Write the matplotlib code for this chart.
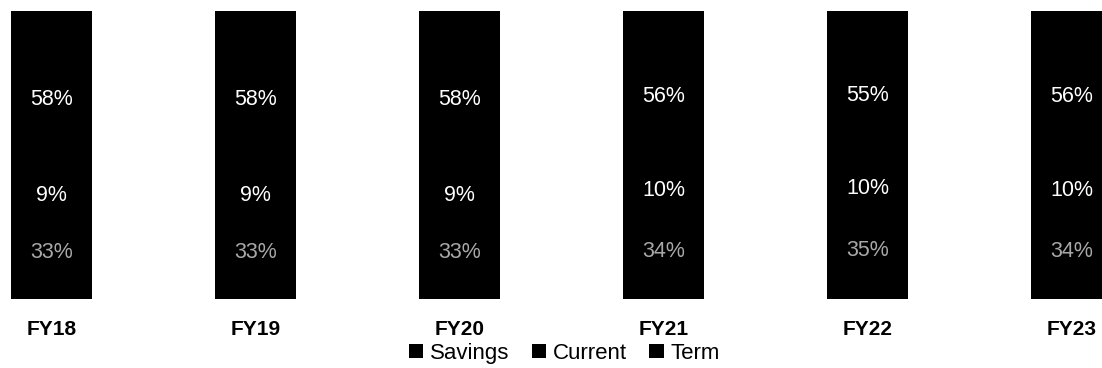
import matplotlib
matplotlib.use("Agg")
import matplotlib.pyplot as plt
from matplotlib.patches import Patch

plt.rcParams['font.family'] = ['Liberation Sans', 'DejaVu Sans']

years = ["FY18", "FY19", "FY20", "FY21", "FY22", "FY23"]
savings = [33, 33, 33, 34, 35, 34]
current = [9, 9, 9, 10, 10, 10]
term = [58, 58, 58, 56, 55, 56]

fig = plt.figure(figsize=(11.02, 3.68), dpi=100)
ax = fig.add_axes([0, 69 / 368, 1, 288 / 368])

x = list(range(len(years)))
w = 0.397
bottoms_cur = savings
bottoms_term = [s + c for s, c in zip(savings, current)]

ax.bar(x, savings, w, color="black", label="Savings")
ax.bar(x, current, w, bottom=bottoms_cur, color="black", label="Current")
ax.bar(x, term, w, bottom=bottoms_term, color="black", label="Term")

for i in x:
    ax.text(i, savings[i] / 2 - 0.5, f"{savings[i]}%", color="#a8a8a8",
            ha="center", va="center", fontsize=15.5)
    ax.text(i, savings[i] + current[i] / 2 - 1.5, f"{current[i]}%", color="white",
            ha="center", va="center", fontsize=15.5)
    ax.text(i, bottoms_term[i] + term[i] / 2 - 1.8, f"{term[i]}%", color="white",
            ha="center", va="center", fontsize=15.5)

ax.set_xlim(-0.2525, -0.2525 + 1102 / 204)
ax.set_ylim(0, 100)
ax.set_xticks(x)
ax.set_xticklabels(years, fontsize=15, fontweight="bold")
ax.tick_params(axis="x", length=0, pad=15)
ax.set_yticks([])
for s in ax.spines.values():
    s.set_visible(False)

handles = [Patch(facecolor="black", label=n) for n in ["Savings", "Current", "Term"]]
fig.legend(handles=handles, loc="center", bbox_to_anchor=(0.512, 0.04), ncol=3,
           frameon=False, fontsize=16, handlelength=0.65, handleheight=0.65,
           handletextpad=0.3, columnspacing=1.0, borderpad=0, borderaxespad=0)

fig.savefig("out.png", dpi=100)
